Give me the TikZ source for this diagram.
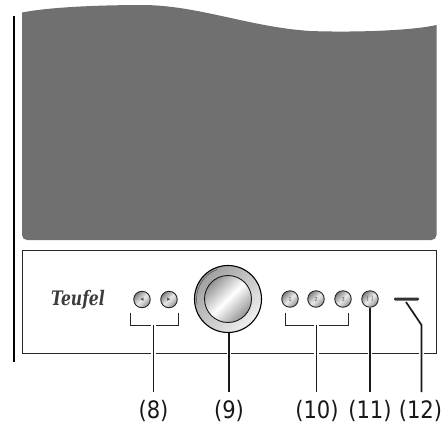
\documentclass[tikz,border=0pt]{standalone}
\usepackage{fontspec}
\setmainfont{DejaVu Sans}
\newfontfamily\logofont[FakeStretch=0.78]{DejaVu Serif}
\newfontfamily\labfont[FakeStretch=0.88]{DejaVu Sans}
\definecolor{panelgray}{HTML}{707070}
\definecolor{logogray}{HTML}{3C3C3C}
\tikzset{
  x=1pt,y=-1pt,
  keybtn/.style={circle,draw=black!85,line width=0.9pt,minimum size=16.5pt,inner sep=0pt,
    top color=black!50,bottom color=black!42,middle color=black!8,shading angle=45,
    font=\fontsize{5.5}{5.5}\selectfont,text=black!65},
  leader/.style={draw=black!90,line width=1.7pt,preaction={draw=white,line width=4.6pt}},
  brack/.style={draw=black!85,line width=0.9pt},
  lab/.style={font=\labfont\fontsize{24}{24}\selectfont,text=black!90,inner sep=0pt,anchor=base}
}
\begin{document}
\begin{tikzpicture}
\useasboundingbox (0,0) rectangle (444,426);
\fill[white] (0,0) rectangle (444,426);
% body
\fill[panelgray] (22,12.5) .. controls (50,7) and (100,5) .. (145,5)
  .. controls (200,6) and (250,27) .. (310,31)
  .. controls (350,32.5) and (410,31) .. (436.5,25)
  -- (436.5,235) [rounded corners=5pt] -- (436.5,240) -- (22,240) [sharp corners] -- (22,235) -- cycle;
\draw[line width=2pt] (14,16) -- (14,362);
% front panel
\node[draw=black!85,line width=1pt,minimum width=414pt,minimum height=103pt,inner sep=0pt] (front) at (229,301.5) {};
% logo
\node[font=\logofont\bfseries\itshape\fontsize{20}{20}\selectfont,text=logogray,inner sep=0pt] (logo) at (78,299.5) {Teufel};
% knob
\node[circle,draw=black,line width=1.1pt,minimum size=67pt,inner sep=0pt,
  top color=black!38,bottom color=black!6,shading angle=45] (knob) at (228,299) {};
\draw[black!70,line width=0.5pt] (knob.center) ++(110:31.5pt) arc[start angle=110,end angle=190,radius=31.5pt];
\node[circle,draw=black!90,line width=0.9pt,minimum size=47pt,inner sep=0pt,
  top color=black!42,bottom color=black!42,middle color=white,shading angle=45] (knobin) at (228,299) {};
% buttons
\node[keybtn] (bl) at (142,299.5) {\fontsize{7}{7}\selectfont ◂};
\node[keybtn] (br) at (169,299.5) {\fontsize{7}{7}\selectfont ▸};
\node[keybtn] (b1) at (290,299) {1};
\node[keybtn] (b2) at (316,299) {2};
\node[keybtn] (b3) at (343,299) {3};
\node[keybtn] (b4) at (370,299) {[ ]};
% display slot
\node[fill=black!80,minimum width=25pt,minimum height=3pt,inner sep=0pt,rounded corners=1.2pt] (slot) at (406.5,299) {};
% coordinates
\coordinate (c8) at (153.5,325);
\coordinate (c10) at (316.5,325);
\coordinate (e8) at (153.5,392);
\coordinate (e9) at (229,392);
\coordinate (e10) at (316.5,392);
\coordinate (e11) at (370,392);
\coordinate (e12) at (421.5,392);
\coordinate (k12) at (421.5,325);
\coordinate (s12) at (406,302);
% brackets
\draw[brack] (130,313) -- (130,325) -- (178.5,325) -- (178.5,313);
\draw[brack] (285,313) -- (285,325) -- (348,325) -- (348,313);
% leaders
\draw[leader] (c8) -- (e8);
\draw[leader] (knob.south -| e9) -- (e9);
\draw[leader] (c10) -- (e10);
\draw[leader] (b4.south) -- (e11);
\draw[leader] (s12) -- (k12) -- (e12);
% labels
\node[lab] (l8) at (153.5,418) {(8)};
\node[lab] (l9) at (229,418) {(9)};
\node[lab] (l10) at (317,418) {(10)};
\node[lab] (l11) at (370,418) {(11)};
\node[lab] (l12) at (420.5,418) {(12)};
\end{tikzpicture}
\end{document}
